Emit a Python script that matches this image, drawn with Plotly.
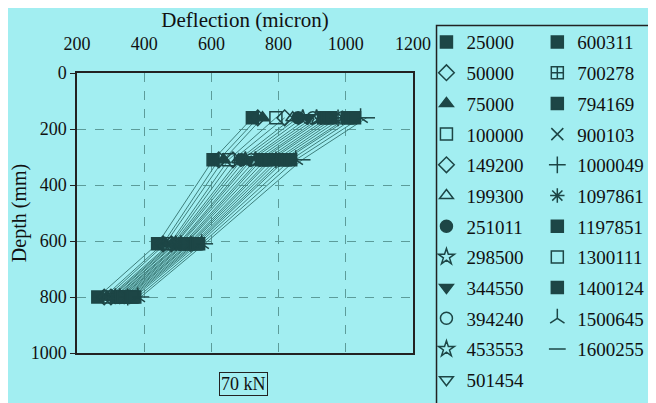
import plotly.graph_objects as go

# depth of each measuring point (mm)
depths = [160, 310, 610, 800]

# load cycles, as labelled in the legend
cycles = ["25000", "50000", "75000", "100000", "149200", "199300", "251011",
          "298500", "344550", "394240", "453553", "501454", "600311", "700278",
          "794169", "900103", "1000049", "1097861", "1197851", "1300111",
          "1400124", "1500645", "1600255"]

# deflection (micron) at each depth, one list per depth, in cycle order
defl_160 = [722, 738, 752, 792, 818, 842, 858, 872, 888, 902, 913, 924,
            934, 946, 955, 966, 977, 990, 1004, 1013, 1026, 1044, 1062]
defl_310 = [605, 622, 636, 651, 664, 681, 690, 701, 712, 719, 731, 742,
            749, 761, 772, 779, 792, 801, 812, 820, 836, 851, 870]
defl_610 = [440, 456, 463, 476, 481, 486, 491, 494, 502, 506, 509, 516,
            521, 524, 531, 536, 539, 546, 551, 556, 562, 571, 580]
defl_800 = [262, 281, 289, 296, 301, 304, 311, 314, 319, 321, 327, 331,
            333, 339, 343, 347, 351, 356, 361, 366, 372, 381, 390]

symbols = ["square", "diamond-open", "triangle-up", "square-open", "diamond-open",
           "triangle-up-open", "circle", "star-open", "triangle-down", "circle-open",
           "star-open", "triangle-down-open", "square", "square-cross-open", "square",
           "x-thin-open", "cross-thin-open", "asterisk-open", "square", "square-open",
           "square", "y-up-open", "line-ew-open"]

bg = "#a2eef1"
ink = "#1d4646"
serif = "Liberation Serif"

fig = go.Figure()

# connecting lines first, markers drawn on top
for i, name in enumerate(cycles):
    xs = [defl_160[i], defl_310[i], defl_610[i], defl_800[i]]
    fig.add_trace(go.Scatter(
        x=xs, y=depths, mode="lines", showlegend=False, hoverinfo="skip",
        line=dict(color="#3e7f7c", width=1), legendgroup=name,
    ))

for i, name in enumerate(cycles):
    xs = [defl_160[i], defl_310[i], defl_610[i], defl_800[i]]
    fig.add_trace(go.Scatter(
        x=xs, y=depths, name=name, mode="markers",
        marker=dict(symbol=symbols[i], size=12, color=ink,
                    line=dict(color=ink, width=1.5)),
        legend="legend" if i < 12 else "legend2",
        legendgroup=name,
    ))

axis_font = dict(family=serif, size=18, color="#111")
grid = dict(showgrid=True, gridcolor="#5c9c9a", griddash="dash", gridwidth=1,
            showline=True, linecolor="#222", linewidth=1.5, mirror=True,
            zeroline=False, automargin=False)

legend_style = dict(yanchor="top", xanchor="left", bgcolor="rgba(0,0,0,0)",
                    font=dict(family=serif, size=19), traceorder="grouped",
                    tracegroupgap=3, itemwidth=30, maxheight=400)

fig.update_layout(
    width=656, height=403,
    # the page sits 8px in from the window corner, so the margins allow for it
    margin=dict(l=69, r=251, t=65, b=58, autoexpand=False),
    paper_bgcolor=bg, plot_bgcolor=bg,
    font=dict(family=serif, color="#111"),
    xaxis=dict(
        side="top", range=[200, 1200], dtick=200, tickfont=axis_font,
        title=dict(text="Deflection (micron)", font=dict(family=serif, size=21), standoff=9),
        ticks="outside", ticklen=14, tickcolor="rgba(0,0,0,0)", **grid,
    ),
    yaxis=dict(
        range=[1000, 0], dtick=200, tickfont=axis_font,
        title=dict(text="Depth (mm)", font=dict(family=serif, size=20), standoff=8),
        ticks="outside", ticklen=5, tickcolor="#222", **grid,
    ),
    legend=dict(x=1.04, y=1.178, **legend_style),
    legend2=dict(x=1.37, y=1.178, **legend_style),
    shapes=[
        dict(type="rect", xref="paper", yref="paper", x0=1.07, x1=1.75, y0=-0.195, y1=1.17,
             line=dict(color="#222", width=1.5)),
    ],
    annotations=[
        dict(text="70 kN", xref="paper", yref="paper", x=0.497, y=-0.155,
             showarrow=False, font=dict(family=serif, size=18, color="#111"),
             bordercolor="#222", borderwidth=1, borderpad=1, bgcolor=bg),
    ],
)

fig.write_html("out.html")
